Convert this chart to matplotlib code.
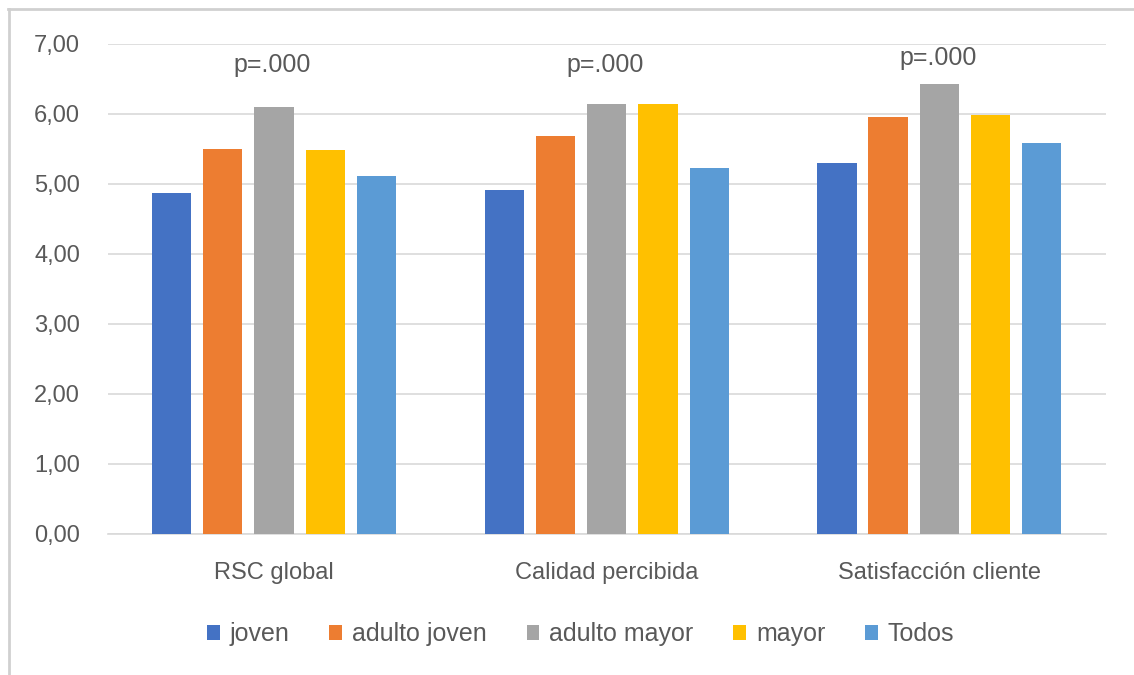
import numpy as np
import matplotlib.pyplot as plt
from matplotlib.lines import Line2D

categorias = ["RSC global", "Calidad percibida", "Satisfacción cliente"]
grupos = ["joven", "adulto joven", "adulto mayor", "mayor", "Todos"]
joven = [4.87, 4.91, 5.30]
adulto_joven = [5.50, 5.68, 5.96]
adulto_mayor = [6.10, 6.14, 6.43]
mayor = [5.48, 6.14, 5.99]
todos = [5.11, 5.23, 5.58]
p_valores = ["p=.000", "p=.000", "p=.000"]
p_altura = [6.70, 6.70, 6.80]

colores = ["#4472C4", "#ED7D31", "#A5A5A5", "#FFC000", "#5B9BD5"]
series = [joven, adulto_joven, adulto_mayor, mayor, todos]

plt.rcParams['font.family'] = ['Liberation Sans', 'DejaVu Sans']
gris = "#595959"

fig = plt.figure(figsize=(11.34, 6.75), dpi=100)
# marco gris solo arriba y a la izquierda
fig.lines.append(Line2D([0.007, 1.0], [0.987, 0.987], transform=fig.transFigure,
                        color="#D0D0D0", linewidth=2))
fig.lines.append(Line2D([0.008, 0.008], [0.0, 0.987], transform=fig.transFigure,
                        color="#D0D0D0", linewidth=2))
ax = fig.add_axes([0.095, 0.209, 0.880, 0.726])

x = np.arange(len(categorias))
paso = 0.154
ancho = 0.118
for i, (vals, col, nombre) in enumerate(zip(series, colores, grupos)):
    ax.bar(x + (i - 2) * paso, vals, width=ancho, color=col, label=nombre, zorder=3)

for xi, txt, h in zip(x, p_valores, p_altura):
    ax.text(xi - 0.005, h, txt, ha="center", va="center", fontsize=18, color=gris)

ax.set_xlim(-0.5, 2.5)
ax.set_ylim(0, 7)
ax.set_yticks(np.arange(0, 8, 1))
ax.set_yticklabels([f"{v:.2f}".replace(".", ",") for v in np.arange(0, 8, 1)])
ax.set_xticks(x)
ax.set_xticklabels(categorias)
ax.tick_params(axis="both", length=0, labelsize=17, labelcolor=gris)
ax.tick_params(axis="y", pad=20)
ax.tick_params(axis="x", pad=20)
ax.grid(axis="y", color="#D9D9D9", linewidth=1.2, zorder=0)
for s in ["top", "right", "left"]:
    ax.spines[s].set_visible(False)
ax.spines["bottom"].set_color("#D9D9D9")
ax.spines["bottom"].set_linewidth(1.2)

ax.legend(loc="center", bbox_to_anchor=(0.474, -0.205), ncol=5, frameon=False,
          fontsize=18, labelcolor=gris, handlelength=0.5, handleheight=0.5,
          handletextpad=0.4, columnspacing=1.6)

fig.savefig("out.png", dpi=100)
